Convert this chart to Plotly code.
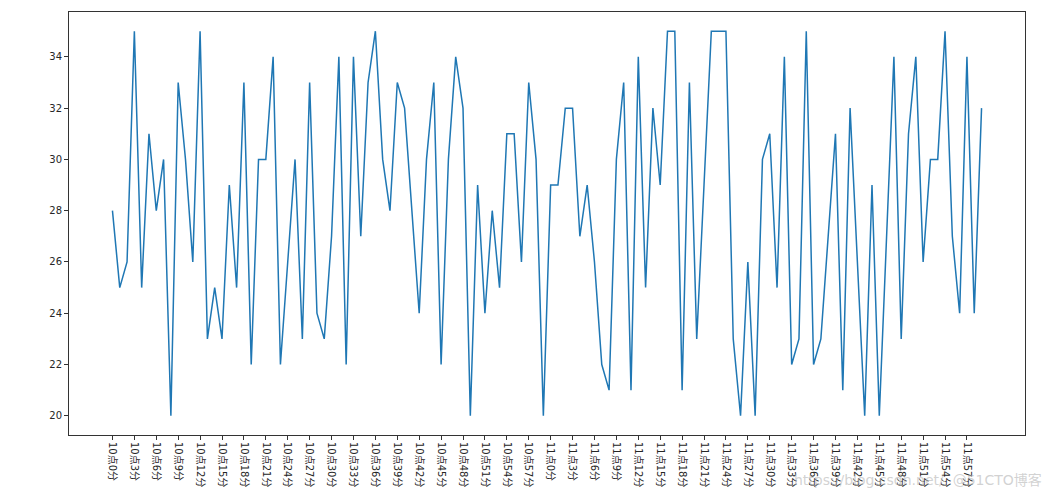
import plotly.graph_objects as go

# minute labels 10点0分 ... 11点59分
labels = [f"{h}点{m}分" for h in (10, 11) for m in range(60)]

values = [28, 25, 26, 35, 25, 31, 28, 30, 20, 33,
          30, 26, 35, 23, 25, 23, 29, 25, 33, 22,
          30, 30, 34, 22, 26, 30, 23, 33, 24, 23,
          27, 34, 22, 34, 27, 33, 35, 30, 28, 33,
          32, 28, 24, 30, 33, 22, 30, 34, 32, 20,
          29, 24, 28, 25, 31, 31, 26, 33, 30, 20,
          29, 29, 32, 32, 27, 29, 26, 22, 21, 30,
          33, 21, 34, 25, 32, 29, 35, 35, 21, 33,
          23, 29, 35, 35, 35, 23, 20, 26, 20, 30,
          31, 25, 34, 22, 23, 35, 22, 23, 27, 31,
          21, 32, 26, 20, 29, 20, 27, 34, 23, 31,
          34, 26, 30, 30, 35, 27, 24, 34, 24, 32]

idx = list(range(len(values)))
tick_idx = idx[::3]
tick_text = [labels[i] for i in tick_idx]
y_ticks = [20, 22, 24, 26, 28, 30, 32, 34]

fig = go.Figure()
fig.add_trace(go.Scatter(x=idx, y=values, mode="lines",
                         line=dict(color="#1f77b4", width=1.5),
                         hoverinfo="skip"))

font_family = "DejaVu Sans, Noto Sans CJK SC, sans-serif"
fig.update_layout(
    width=1054, height=491,
    margin=dict(l=69, r=29, t=12, b=56),
    paper_bgcolor="white", plot_bgcolor="white",
    showlegend=False,
    font=dict(family=font_family, size=10, color="#262626"),
    xaxis=dict(range=[-5.95, 124.95], tickmode="array", tickvals=tick_idx,
               ticktext=tick_text, tickangle=90, ticks="outside", ticklen=4,
               tickcolor="#333", showgrid=False, zeroline=False,
               showline=True, linecolor="#333", linewidth=1, mirror=True,
               automargin=False, tickfont=dict(size=10)),
    yaxis=dict(range=[19.25, 35.75], tickmode="array", tickvals=y_ticks,
               ticks="outside", ticklen=4, tickcolor="#333", showgrid=False,
               zeroline=False, showline=True, linecolor="#333", linewidth=1,
               mirror=True, automargin=False, tickfont=dict(size=10)),
)

fig.add_annotation(text="https://blog.csdn.net/  @51CTO博客", xref="paper", yref="paper",
                   x=1.02, y=-0.13, xanchor="right", yanchor="bottom",
                   showarrow=False, font=dict(size=14, color="rgba(180,180,180,0.6)",
                                              family=font_family))

fig.write_html("out.html")
